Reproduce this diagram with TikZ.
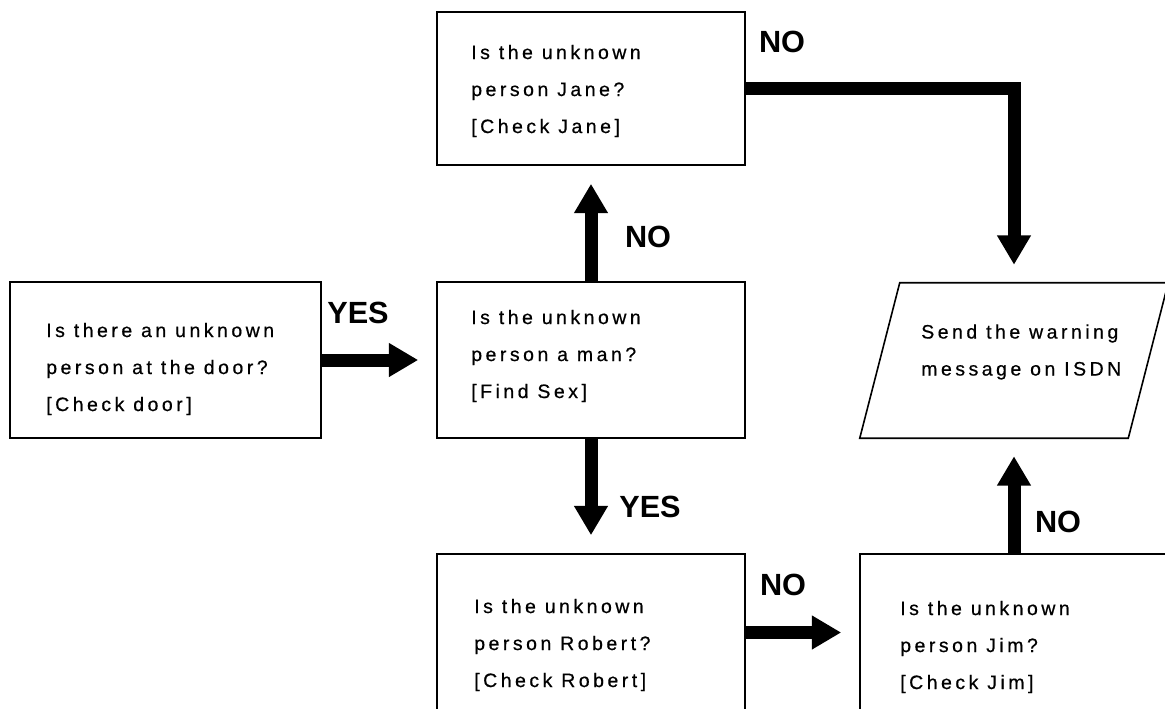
\documentclass[tikz,border=0pt]{standalone}
\usepackage{fontspec}
\usepackage{tikz}
\usetikzlibrary{arrows.meta}
\newfontfamily\scanfont{Liberation Sans}[LetterSpace=18, FakeBold=0.6]
\newfontfamily\answerfont{Liberation Sans}

\tikzset{
  qbox/.style={draw, line width=1.2pt, inner sep=0pt},
  qtext/.style={anchor=west, align=left, inner sep=0.75pt, font=\scanfont\fontsize{14.6}{27.75}\selectfont},
  answer/.style={inner sep=0.75pt, font=\answerfont\bfseries\fontsize{23}{23}\selectfont},
  flow/.style={line width=9.75pt, line join=miter, shorten >=13.5pt, -{Triangle[width=24pt,length=22pt]}}
}

\begin{document}
\begin{tikzpicture}[x=0.75pt,y=0.75pt,yscale=-1,xscale=1]
        %set diagram to the size of the scan
        \clip (0,0) rectangle (1165,708);

        %Shape: Rectangle [door]
        \node [qbox, minimum width=311*0.75pt, minimum height=156*0.75pt] (door) at (165.5,360) {};
        %Shape: Rectangle [jane]
        \node [qbox, minimum width=308*0.75pt, minimum height=153*0.75pt] (jane) at (591,88.5) {};
        %Shape: Rectangle [sex]
        \node [qbox, minimum width=308*0.75pt, minimum height=156*0.75pt] (sex) at (591,360) {};
        %Shape: Rectangle [robert]
        \node [qbox, minimum width=308*0.75pt, minimum height=157*0.75pt] (robert) at (591,632.5) {};
        %Shape: Rectangle [jim]
        \node [qbox, minimum width=308*0.75pt, minimum height=157*0.75pt] (jim) at (1014,632.5) {};
        %Shape: Parallelogram [msg]
        \node [inner sep=0pt, minimum width=308*0.75pt, minimum height=155*0.75pt] (msg) at (1014,360.5) {};
        \draw [line width=1.2pt] (msg.south west) -- ([xshift=-30pt]msg.south east) -- (msg.north east) -- ([xshift=30pt]msg.north west) -- cycle ;

        %Straight Lines [door - sex]
        \draw [flow] (door) -- (sex) ;
        %Straight Lines [sex - jane]
        \draw [flow] (sex) -- (jane) ;
        %Straight Lines [sex - robert]
        \draw [flow] (sex) -- (robert) ;
        %Straight Lines [robert - jim]
        \draw [flow] (robert) -- (jim) ;
        %Straight Lines [jim - msg]
        \draw [flow] (jim) -- (msg) ;
        %Straight Lines [jane - msg]
        \draw [flow] (jane.east) -| (msg.north) ;

        % Text Node
        \draw (45,369) node [qtext] (doortxt) {Is there an unknown\\person at the door?\\{[}Check door{]}};
        % Text Node
        \draw (470,91) node [qtext] (janetxt) {Is the unknown\\person Jane?\\{[}Check Jane{]}};
        % Text Node
        \draw (470,356) node [qtext] (sextxt) {Is the unknown\\person a man?\\{[}Find Sex{]}};
        % Text Node
        \draw (473,645) node [qtext] (roberttxt) {Is the unknown\\person Robert?\\{[}Check Robert{]}};
        % Text Node
        \draw (899,647) node [qtext] (jimtxt) {Is the unknown\\person Jim?\\{[}Check Jim{]}};
        % Text Node
        \draw (920,352) node [qtext] (msgtxt) {Send the warning\\message on ISDN};

        % Text Node
        \draw (358,313) node [answer] (yesdoor) {YES};
        % Text Node
        \draw (648,237) node [answer] (nosex) {NO};
        % Text Node
        \draw (782,42) node [answer] (nojane) {NO};
        % Text Node
        \draw (650,507) node [answer] (yessex) {YES};
        % Text Node
        \draw (783,585) node [answer] (norobert) {NO};
        % Text Node
        \draw (1058,522) node [answer] (nojim) {NO};

\end{tikzpicture}
\end{document}
